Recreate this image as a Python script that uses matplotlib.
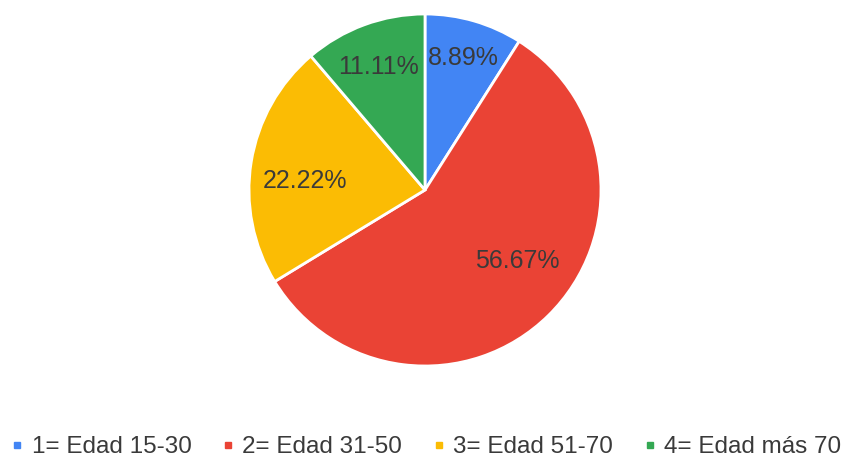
import matplotlib.pyplot as plt
import numpy as np
from matplotlib.lines import Line2D

plt.rcParams["font.family"] = ["Liberation Sans", "DejaVu Sans"]

labels = ["1= Edad 15-30", "2= Edad 31-50", "3= Edad 51-70", "4= Edad más 70"]
values = [8.89, 56.67, 22.22, 11.11]
colors = ["#4285F4", "#EA4335", "#FBBC04", "#34A853"]
# label placement: fraction of radius and angle nudge (deg)
label_r = [0.78, 0.66, 0.685, 0.75]
label_nudge = [0, 8, 5, 0.5]

fig = plt.figure(figsize=(8.51, 4.61), dpi=100)
r_px = 176
cx, cy = 425, 190
ax = fig.add_axes([(cx - r_px) / 851, (461 - cy - r_px) / 461, 2 * r_px / 851, 2 * r_px / 461])

wedges, _ = ax.pie(values, colors=colors, startangle=90, counterclock=False,
                   radius=1, wedgeprops=dict(edgecolor="white", linewidth=2))

for w, v, r, d in zip(wedges, values, label_r, label_nudge):
    ang = np.deg2rad(0.5 * (w.theta1 + w.theta2) + d)
    ax.text(r * np.cos(ang), r * np.sin(ang), f"{v:.2f}%", ha="center", va="center",
            fontsize=18, color="#3a3a3a")

ax.set_xlim(-1, 1)
ax.set_ylim(-1, 1)
ax.set_aspect("equal")
ax.axis("off")

handles = [Line2D([], [], marker="s", linestyle="none", markersize=5,
                  markerfacecolor=c, markeredgecolor=c) for c in colors]
fig.legend(handles, labels, loc="center", bbox_to_anchor=(0.5, 1 - 447 / 461), ncol=4,
           frameon=False, fontsize=17.5, handletextpad=0.3, columnspacing=1.2,
           handlelength=0.6, labelcolor="#3a3a3a", borderpad=0, borderaxespad=0)

fig.savefig("out.png", dpi=100)
